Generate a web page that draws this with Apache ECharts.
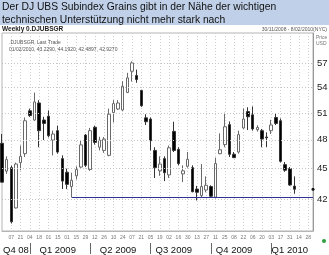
<!DOCTYPE html>
<html><head><meta charset="utf-8">
<script src="https://cdn.jsdelivr.net/npm/echarts@6/dist/echarts.min.js"></script>
<style>html,body{margin:0;padding:0;background:#fff}#c{width:329px;height:255px}</style>
</head><body><div id="c"></div>
<script>
// Weekly categories (week ending Sunday)
const weeks = [
 '2008-11-23','2008-11-30','2008-12-07','2008-12-14','2008-12-21','2008-12-28',
 '2009-01-04','2009-01-11','2009-01-18','2009-01-25','2009-02-01','2009-02-08','2009-02-15','2009-02-22',
 '2009-03-01','2009-03-08','2009-03-15','2009-03-22','2009-03-29','2009-04-05','2009-04-12','2009-04-19','2009-04-26',
 '2009-05-03','2009-05-10','2009-05-17','2009-05-24','2009-05-31','2009-06-07','2009-06-14','2009-06-21','2009-06-28',
 '2009-07-05','2009-07-12','2009-07-19','2009-07-26','2009-08-02','2009-08-09','2009-08-16','2009-08-23','2009-08-30',
 '2009-09-06','2009-09-13','2009-09-20','2009-09-27','2009-10-04','2009-10-11','2009-10-18','2009-10-25',
 '2009-11-01','2009-11-08','2009-11-15','2009-11-22','2009-11-29','2009-12-06','2009-12-13','2009-12-20','2009-12-27',
 '2010-01-03','2010-01-10','2010-01-17','2010-01-24','2010-01-31','2010-02-07','2010-02-14','2010-02-21','2010-02-28','2010-03-07'
];
const openVals  = [47.62,44.72,45.07,41.15,45.59,46.52,51.25,50.19,52.16,50.19,50.63,47.97,49.0,46.0,44.6,43.19,44.25,45.13,48.52,44.88,49.37,47.2,46.86,46.34,51.04,51.46,51.34,53.41,56.04,55.5,53.66,50.44,50.3,46.86,44.75,46.0,44.34,48.92,46.97,44.44,45.21,45.07,42.94,42.31,42.85,43.19,42.16,46.52,47.48,49.67,46.45,46.69,49.3,51.16,50.78,49.1,49.0,48.3,49.0,50.48,50.11,45.38,44.97,43.229];
const closeVals = [43.62,45.9,39.88,45.44,46.24,50.11,50.7,52.29,49.0,49.81,48.44,48.63,46.69,43.72,43.4,43.81,44.88,47.45,45.31,49.0,47.72,47.97,48.07,50.86,52.09,52.16,54.16,55.21,57.1,55.0,51.84,50.0,47.9,45.07,45.44,44.56,47.14,46.86,45.49,44.75,45.93,42.69,42.63,43.19,43.31,42.25,45.49,46.93,49.44,46.45,46.1,48.56,50.3,50.56,49.19,49.35,48.08,48.22,49.63,49.81,45.72,44.81,43.34,42.927];
const lowVals   = [43.6,44.44,39.73,41.1,44.81,46.17,50.55,50.11,47.2,47.97,48.26,46.34,46.52,42.94,42.94,42.16,43.88,44.97,45.13,44.75,47.48,46.86,46.6,46.24,49.92,51.34,51.25,53.34,54.75,54.6,51.7,49.63,46.86,44.03,44.25,43.72,44.03,46.69,45.31,43.62,45.07,42.63,41.85,42.16,42.63,42.16,42.06,46.45,47.2,46.17,46.1,46.52,49.19,49.07,49.0,48.9,47.2,47.2,48.63,49.63,45.6,44.65,43.25,42.4897];
const highVals  = [48.63,46.24,45.28,45.59,47.38,50.48,51.5,53.41,52.5,50.56,51.3,49.0,49.56,46.34,44.97,44.56,45.2,47.9,48.63,49.3,49.56,48.33,48.3,51.5,52.5,52.5,54.79,55.84,57.3,56.25,53.75,50.86,50.48,47.2,46.24,46.24,47.38,50.0,47.2,45.31,46.69,45.31,43.25,45.44,44.19,43.31,46.1,48.7,51.03,50.03,46.69,49.0,51.52,51.66,51.75,49.6,49.19,48.81,50.22,50.92,50.37,45.65,45.13,44.192];
const priceTicks = [42,45,48,51,54,57];
const quarterNames = ['Q4 08','Q1 2009','Q2 2009','Q3 2009','Q4 2009','Q1 2010'];
const quarterLabelWeeks = ['2008-12-14','2009-02-15','2009-05-17','2009-08-09','2009-11-08','2010-01-31'];
const quarterStartWeeks = ['2009-01-04','2009-04-05','2009-07-05','2009-10-04','2010-01-03'];
const supportLevel = 42.2;
const supportFrom = '2009-03-08';
const lastPrice = 42.927;

const candleData = weeks.map((w, i) => i < openVals.length ? [openVals[i], closeVals[i], lowVals[i], highVals[i]] : '-');

const chart = echarts.init(document.getElementById('c'), null, {renderer: 'canvas'});
const sans = '"Liberation Sans",Arial,sans-serif';
const tickLabelData = priceTicks.map(v => ({
  yAxis: v,
  lineStyle: {color: '#c4c4c4', type: [1, 2], width: 1},
  label: {show: true, position: 'end', distance: 4, formatter: String(v), fontSize: 9.5, color: '#222', fontFamily: sans}
}));

chart.setOption({
  animation: false,
  backgroundColor: '#fff',
  graphic: [
    {type: 'rect', z: 0, shape: {x: 0, y: 0, width: 329, height: 25}, style: {fill: '#bfd0e8'}},
    {type: 'text', z: 2, x: 2, y: 1, style: {text: 'Der DJ UBS Subindex Grains gibt in der Nähe der wichtigen\ntechnischen Unterstützung nicht mehr stark nach', font: '10.3px "Liberation Sans", Arial, sans-serif', fill: '#111', lineHeight: 12.5}},
    {type: 'text', z: 2, x: 2, y: 26, style: {text: 'Weekly 0.DJUBSGR', font: 'bold 6.5px "Liberation Sans", Arial, sans-serif', fill: '#222'}},
    {type: 'text', z: 2, x: 327, y: 27, style: {text: '30/11/2008 - 8/02/2010(NYC)', font: '5px "Liberation Sans", Arial, sans-serif', fill: '#555', align: 'right'}},
    {type: 'text', z: 2, x: 9, y: 40, style: {text: '.DJUBSGR, Last Trade', font: '5px "Liberation Sans", Arial, sans-serif', fill: '#555'}},
    {type: 'text', z: 2, x: 9, y: 47, style: {text: '01/02/2010, 43.2290, 44.1920, 42.4897, 42.9270', font: '5px "Liberation Sans", Arial, sans-serif', fill: '#555'}},
    {type: 'text', z: 2, x: 316, y: 35, style: {text: 'Price\nUSD', font: '5px "Liberation Sans", Arial, sans-serif', fill: '#777', lineHeight: 6}},
    {type: 'circle', z: 2, shape: {cx: 324, cy: 241, r: 2}, style: {fill: '#2e9e3e'}}
  ],
  grid: {left: 2, right: 16, top: 33, bottom: 23, show: true, borderColor: '#b5b5b5', borderWidth: 1, backgroundColor: 'transparent'},
  xAxis: [{
    type: 'category', data: weeks, boundaryGap: false,
    axisLine: {show: true, lineStyle: {color: '#b5b5b5'}},
    axisTick: {show: false},
    axisLabel: {interval: (i) => i > 0 && i % 2 === 0, formatter: v => v.slice(8, 10), fontSize: 5, color: '#777', margin: 4, fontFamily: sans},
    splitLine: {show: true, interval: (i) => i > 0 && i % 2 === 0, lineStyle: {color: '#cfcfcf', type: [1, 2], width: 1}}
  }, {
    type: 'category', data: weeks, boundaryGap: false, position: 'bottom', offset: 12,
    axisLine: {show: false},
    axisTick: {show: true, interval: (i, v) => quarterStartWeeks.includes(v), length: 11, lineStyle: {color: '#666', width: 1}},
    axisLabel: {interval: (i, v) => quarterLabelWeeks.includes(v), formatter: v => quarterNames[quarterLabelWeeks.indexOf(v)] || '', fontSize: 9.5, color: '#111', margin: 2, fontFamily: sans},
    splitLine: {show: false}
  }],
  yAxis: {
    type: 'log', logBase: 10, min: 39.06, max: 61.1, position: 'right',
    axisLine: {show: true, lineStyle: {color: '#999'}},
    axisTick: {show: false}, axisLabel: {show: false}, splitLine: {show: false}, minorTick: {show: false}
  },
  series: [{
    type: 'candlestick',
    data: candleData,
    barWidth: 3,
    itemStyle: {color: '#ffffff', color0: '#000000', borderColor: '#6a6a6a', borderColor0: '#333333', borderWidth: 1},
    markLine: {
      symbol: 'none', silent: true, animation: false,
      data: tickLabelData.concat([
        [{coord: [supportFrom, supportLevel], lineStyle: {color: '#2f3190', width: 1, type: 'solid'}, label: {show: false}},
         {coord: [weeks[weeks.length - 1], supportLevel]}]
      ])
    },
    markPoint: {
      silent: true, animation: false,
      data: [{coord: [weeks[weeks.length - 1], lastPrice], symbol: 'circle', symbolSize: 3, itemStyle: {color: '#111'}, label: {show: false}}]
    }
  }]
});
</script>
</body></html>
